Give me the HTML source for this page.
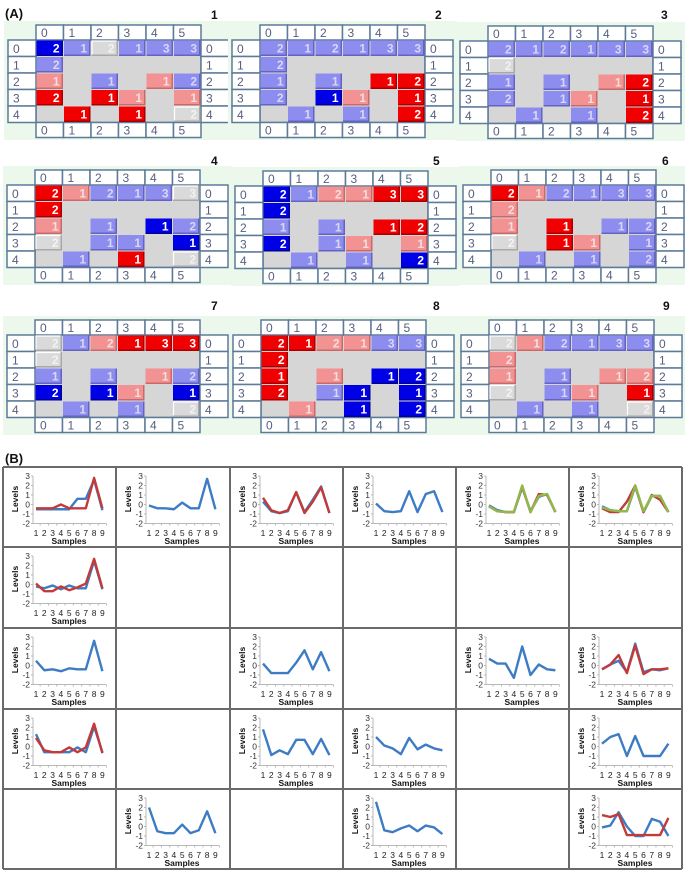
<!DOCTYPE html>
<html><head><meta charset="utf-8"><style>
html,body{margin:0;padding:0;background:#fff;}
svg{display:block;font-family:"Liberation Sans",Arial,sans-serif;}
</style></head><body>
<svg id="fig" width="685" height="870" viewBox="0 0 685 870"></svg>
<script>
// ---------- Part A board data ----------
const boardLabels = ["1","2","3","4","5","6","7","8","9"];
const board1 = ["B2 b1 g2 b1 b3 b3","b2 . . . . .","r1 . b1 . r1 b2","R2 . R1 r1 . r1",". R1 . R1 . g2"];
const board2 = ["b2 b1 b2 b1 b3 b3","b2 . . . . .","b1 . b1 . R1 R2","b2 . B1 r1 . R1",". b1 . b1 . R2"];
const board3 = ["b2 b1 b2 b1 b3 b3","g2 . . . . .","b1 . b1 . r1 R2","b2 . b1 r1 . R1",". b1 . b1 . R2"];
const board4 = ["R2 r1 b2 b1 b3 g3","R2 . . . . .","r1 . b1 . B1 b2","g2 . b1 b1 . B1",". b1 . R1 . g2"];
const board5 = ["B2 b1 r2 r1 R3 R3","B2 . . . . .","b1 . b1 . R1 R2","B2 . b1 r1 . r1",". b1 . b1 . B2"];
const board6 = ["R2 r1 b2 b1 b3 b3","r2 . . . . .","r1 . R1 . b1 b2","g2 . R1 r1 . b1",". b1 . b1 . b2"];
const board7 = ["g2 b1 r2 R1 R3 R3","g2 . . . . .","b1 . b1 . r1 b2","B2 . B1 r1 . B1",". b1 . b1 . g2"];
const board8 = ["R2 R1 r2 r1 b3 b3","R2 . . . . .","R1 . r1 . B1 B2","R2 . b1 B1 . B1",". r1 . B1 . B2"];
const board9 = ["g2 r1 b2 b1 b3 b3","r2 . . . . .","r1 . b1 . r1 r2","g2 . b1 r1 . R1",". b1 . b1 . g2"];
const boards = [board1,board2,board3,board4,board5,board6,board7,board8,board9];

// ---------- Part B chart data ----------
const sampleLabels = ["1","2","3","4","5","6","7","8","9"];
const yTicks = [3,2,1,0,-1,-2];
// each entry: [row, col, color, values]
const s_r1c1_blue = [-0.5,-0.5,-0.5,-0.5,-0.5,0.6,0.6,2.6,-0.6];
const s_r1c1_red  = [-0.4,-0.4,-0.4,0,-0.4,-0.4,-0.4,2.8,-0.4];
const s_r1c2_blue = [-0.1,-0.4,-0.4,-0.5,0.2,-0.4,-0.4,2.7,-0.5];
const s_r1c3_blue = [0.3,-0.7,-0.9,-0.7,1.3,-0.8,0.5,1.9,-0.9];
const s_r1c3_red  = [0.7,-0.6,-0.9,-0.6,1.3,-0.9,0.3,1.8,-0.9];
const s_r1c4_blue = [0.1,-0.7,-0.8,-0.7,1.4,-0.8,1.1,1.4,-0.8];
const s_r1c5_blue = [-0.1,-0.6,-0.8,-0.8,1.8,-0.7,0.8,1.1,-0.8];
const s_r1c5_red  = [-0.2,-0.7,-0.8,-0.8,1.9,-0.8,1.1,1.0,-0.8];
const s_r1c5_green= [-0.2,-0.7,-0.8,-0.8,2.0,-0.8,0.9,1.1,-0.8];
const s_r1c6_blue = [-0.2,-0.6,-0.7,-0.7,1.9,-0.8,0.9,0.9,-0.8];
const s_r1c6_red  = [-0.4,-0.8,-0.8,0.3,2.0,-0.8,1.0,0.5,-0.8];
const s_r1c6_green= [-0.3,-0.6,-0.7,-0.7,2.0,-0.7,0.9,0.9,-0.8];
const s_r2c1_blue = [-0.2,-0.4,-0.1,-0.5,-0.1,-0.4,-0.4,2.5,-0.5];
const s_r2c1_red  = [0.1,-0.7,-0.7,-0.2,-0.6,-0.3,0.1,2.7,-0.4];
const s_r3c1_blue = [0.5,-0.5,-0.4,-0.6,-0.3,-0.4,-0.4,2.6,-0.6];
const s_r3c3_blue = [0.2,-0.8,-0.8,-0.8,0.3,1.6,-0.4,1.4,-0.6];
const s_r3c5_blue = [0.7,0.2,0.2,-1.3,2.0,-1.0,0.1,-0.4,-0.5];
const s_r3c6_blue = [-0.4,0.1,0.5,-0.7,2.3,-0.7,-0.4,-0.5,-0.3];
const s_r3c6_red  = [-0.4,0.1,1.1,-0.8,2.1,-0.9,-0.4,-0.4,-0.3];
const s_r4c1_blue = [1.3,-0.6,-0.6,-0.6,-0.6,-0.1,-0.6,2.1,-0.6];
const s_r4c1_red  = [0.9,-0.4,-0.6,-0.6,-0.1,-0.6,-0.1,2.4,-0.7];
const s_r4c3_blue = [1.8,-0.9,-0.4,-0.8,0.7,0.7,-0.8,0.8,-0.9];
const s_r4c4_blue = [1.0,0.1,-0.2,-0.8,0.9,-0.3,0.2,-0.2,-0.4];
const s_r4c6_blue = [0.3,1.0,1.3,-1.0,1.1,-1.0,-1.0,-1.0,0.3];
const s_r5c2_blue = [2.0,-0.5,-0.7,-0.7,0.2,-0.7,-0.4,1.6,-0.7];
const s_r5c4_blue = [2.6,-0.4,-0.6,-0.2,0.1,-0.5,0.1,-0.1,-0.8];
const s_r5c6_blue = [-0.1,0.1,1.5,0,-1.0,-1.0,0.8,0.5,-1.0];
const s_r5c6_red  = [1.2,1.0,1.3,-0.9,-0.9,-0.9,-0.9,-0.9,0.9];

const panels = [
 [0,0,[["blue",s_r1c1_blue],["red",s_r1c1_red]]],
 [0,1,[["blue",s_r1c2_blue]]],
 [0,2,[["blue",s_r1c3_blue],["red",s_r1c3_red]]],
 [0,3,[["blue",s_r1c4_blue]]],
 [0,4,[["blue",s_r1c5_blue],["red",s_r1c5_red],["green",s_r1c5_green]]],
 [0,5,[["blue",s_r1c6_blue],["red",s_r1c6_red],["green",s_r1c6_green]]],
 [1,0,[["blue",s_r2c1_blue],["red",s_r2c1_red]]],
 [2,0,[["blue",s_r3c1_blue]]],
 [2,2,[["blue",s_r3c3_blue]]],
 [2,4,[["blue",s_r3c5_blue]]],
 [2,5,[["blue",s_r3c6_blue],["red",s_r3c6_red]]],
 [3,0,[["blue",s_r4c1_blue],["red",s_r4c1_red]]],
 [3,2,[["blue",s_r4c3_blue]]],
 [3,3,[["blue",s_r4c4_blue]]],
 [3,5,[["blue",s_r4c6_blue]]],
 [4,1,[["blue",s_r5c2_blue]]],
 [4,3,[["blue",s_r5c4_blue]]],
 [4,5,[["blue",s_r5c6_blue],["red",s_r5c6_red]]]
];

const NS="http://www.w3.org/2000/svg";
const svg=document.getElementById('fig');
function mk(tag,attrs,parent){const e=document.createElementNS(NS,tag);for(const k in attrs)e.setAttribute(k,attrs[k]);(parent||svg).appendChild(e);return e;}

// ---------- Part A ----------
const lblA=mk('text',{x:5,y:18,'font-size':13,'font-weight':'bold',fill:'#111'});
lblA.textContent='(A)';



const boardX0=[36,260,488,35,263,491,35,261,489];
const boardY0=[25,25,26,170,171,170,320,320,320];
const boardLblX=[211,435,661,211,433,662,211,433,663];
const boardLblY=[19,19,19,165,165,165,310,310,310];
const CW=27.5, RH=16.5, HH=15;
const fills={B:'#0000e6',b:'#8d8df0',R:'#f00000',r:'#f39292',g:'#dadada'};
const edges={B:'#00009a',b:'#6464c0',R:'#a80000',r:'#c86a6a',g:'#a8a8a8'};
const numFill={B:'#ffffff',b:'#d8d8f4',R:'#ffffff',r:'#f4dede',g:'#f2f2f2'};

boards.forEach((bd,k)=>{
  const X0=boardX0[k], Y0=boardY0[k];
  const g=mk('g',{});
  
  
  mk('rect',{x:X0-32,y:Y0-4,width:229,height:119,fill:'#edf8ec'},g);
  mk('rect',{x:X0,y:Y0+HH,width:6*CW,height:5*RH,fill:'#d6d6d6',stroke:'#5d7b98','stroke-width':1.5},g);
  const t=mk('text',{x:boardLblX[k],y:boardLblY[k],'font-size':12,'font-weight':'bold',fill:'#111'},g);
  t.textContent=boardLabels[k];
  // header/footer
  for(let i=0;i<6;i++){
    [Y0,Y0+HH+5*RH].forEach((yy)=>{
      mk('rect',{x:X0+i*CW,y:yy,width:CW,height:HH,fill:'#fff',stroke:'#5d7b98','stroke-width':1.5},g);
      const tt=mk('text',{x:X0+i*CW+5,y:yy+12,'font-size':12,fill:'#55607f'},g);
      tt.textContent=String(i);
    });
  }
  for(let r=0;r<5;r++){
    [X0-28,X0+6*CW].forEach((xx)=>{
      mk('rect',{x:xx,y:Y0+HH+r*RH,width:28,height:RH,fill:'#fff',stroke:'#5d7b98','stroke-width':1.5},g);
      const tt=mk('text',{x:xx+5,y:Y0+HH+r*RH+13,'font-size':12,fill:'#55607f'},g);
      tt.textContent=String(r);
    });
    const cells=bd[r].split(' ');
    cells.forEach((c,ci)=>{
      if(c==='.')return;
      const code=c[0], n=c.slice(1);
      const x=X0+ci*CW, y=Y0+HH+r*RH;
      const tile=mk('g',{},g);
      
      
      mk('rect',{x:x+0.5,y:y+0.5,width:CW-1,height:RH-1,fill:edges[code]},tile);
      mk('rect',{x:x+0.5,y:y+0.5,width:CW-2.5,height:RH-2.5,fill:fills[code]},tile);
      if(code==='g') mk('path',{d:`M${x+1} ${y+RH-2}V${y+1}H${x+CW-2}`,stroke:'#fff','stroke-width':1.2,fill:'none'},tile);
      const tn=mk('text',{x:x+CW-4,y:y+12.5,'font-size':12,'font-weight':'bold','text-anchor':'end',fill:numFill[code]},tile);
      tn.textContent=n;
    });
  }
});

// ---------- Part B ----------
const lblB=mk('text',{x:5,y:463,'font-size':13,'font-weight':'bold',fill:'#111'});
lblB.textContent='(B)';



const colX=[3,116,230,343,456,569,682];
const rowY=[467,547,628,709,789,869];
const gridG=mk('g',{});


colX.forEach(x=>mk('line',{x1:x,y1:rowY[0],x2:x,y2:rowY[5],stroke:'#6a6a6a','stroke-width':2},gridG));
rowY.forEach(y=>mk('line',{x1:colX[0],y1:y,x2:colX[6],y2:y,stroke:'#6a6a6a','stroke-width':2},gridG));

const colors={blue:'#3d7cc4',red:'#c23b3a',green:'#8fba4a'};
panels.forEach(p=>{
  const [r,c,series]=p;
  const ox=colX[c], oy=rowY[r];
  const xs=i=>ox+33+i*8.3;
  const ys=v=>oy+9+(3-v)*9.5;
  const g=mk('g',{});
  
  
  mk('line',{x1:ox+30,y1:ys(3),x2:ox+30,y2:ys(-2),stroke:'#b8b8b8','stroke-width':1},g);
  mk('line',{x1:ox+30,y1:ys(-2),x2:ox+103,y2:ys(-2),stroke:'#b8b8b8','stroke-width':1},g);
  yTicks.forEach(v=>{
    mk('line',{x1:ox+28,y1:ys(v),x2:ox+30,y2:ys(v),stroke:'#b8b8b8'},g);
    const t=mk('text',{x:ox+27,y:ys(v)+3,'font-size':8.5,'text-anchor':'end',fill:'#333'},g);
    t.textContent=String(v);
  });
  sampleLabels.forEach((s,i)=>{
    mk('line',{x1:xs(i)+4.15,y1:ys(-2),x2:xs(i)+4.15,y2:ys(-2)+2,stroke:'#b8b8b8'},g);
    const t=mk('text',{x:xs(i),y:oy+69,'font-size':8.5,'text-anchor':'middle',fill:'#222'},g);
    t.textContent=s;
  });
  const xt=mk('text',{x:ox+66,y:oy+77,'font-size':8.5,'font-weight':'bold','text-anchor':'middle',fill:'#111'},g);
  xt.textContent='Samples';
  
  
  const yt=mk('text',{x:0,y:0,'font-size':8.5,'font-weight':'bold','text-anchor':'middle',fill:'#111',transform:`translate(${ox+15},${oy+32}) rotate(-90)`},g);
  yt.textContent='Levels';
  
  
  series.forEach(([col,vals])=>{
    const pl=mk('polyline',{points:vals.map((v,i)=>xs(i)+','+ys(v)).join(' '),fill:'none',stroke:colors[col],'stroke-width':2.4,'stroke-linejoin':'round'},g);
    
    
  });
});
</script>
</body></html>
